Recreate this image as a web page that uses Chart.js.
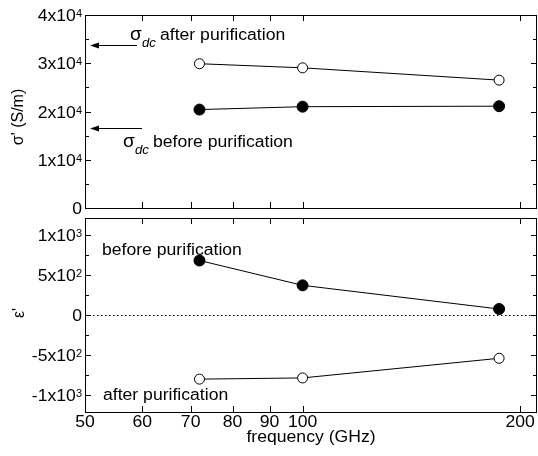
<!DOCTYPE html>
<html>
<head>
<meta charset="utf-8">
<script src="https://cdn.jsdelivr.net/npm/chart.js@4/dist/chart.umd.min.js"></script>
<style>
  body { margin: 0; background: #fff; }
  #wrap { position: relative; width: 538px; height: 456px; }
  canvas { position: absolute; left: 0; top: 0; }
</style>
</head>
<body>
<div id="wrap">
  <canvas id="topPanel" width="538" height="456"></canvas>
  <canvas id="botPanel" width="538" height="456"></canvas>
</div>
<script>
// data
const freqs = [72, 100, 187];
const sigmaAfter = [29900, 29050, 26500];
const sigmaBefore = [20400, 21000, 21100];
const epsBefore = [680, 370, 75];
const epsAfter = [-800, -785, -540];
const sigmaDcAfter = 33700;
const sigmaDcBefore = 16600;

// ticks
const xTicks = [50, 60, 70, 80, 90, 100, 200];
const sigmaTicks = [0, 10000, 20000, 30000, 40000];
const sigmaTickLabels = ['0', '1x10^4', '2x10^4', '3x10^4', '4x10^4'];
const sigmaMinor = [5000, 15000, 25000, 35000];
const epsTicks = [-1000, -500, 0, 500, 1000];
const epsTickLabels = ['-1x10^3', '-5x10^2', '0', '5x10^2', '1x10^3'];
const epsMinor = [-750, -250, 250, 750];

const FONT = '"Liberation Sans", Arial, sans-serif';
const SX = 1.1; // the figure's text is a bit wide

function txt(ctx, s, x, y, size, align, italic) {
  ctx.save();
  ctx.font = (italic ? 'italic ' : '') + size + 'px ' + FONT;
  ctx.textBaseline = 'alphabetic';
  ctx.textAlign = 'left';
  const w = ctx.measureText(s).width * SX;
  const x0 = align === 'right' ? x - w : align === 'center' ? x - w / 2 : x;
  ctx.translate(x0, y);
  ctx.scale(SX, 1);
  ctx.fillStyle = '#000';
  ctx.fillText(s, 0, 0);
  ctx.restore();
  return w;
}

function powLabel(ctx, label, xRight, yc) {
  const parts = label.split('^');
  if (parts.length === 1) { txt(ctx, label, xRight, yc + 6, 16, 'right'); return; }
  const supW = txt(ctx, parts[1], xRight, yc + 2, 10, 'right');
  txt(ctx, parts[0], xRight - supW, yc + 6, 16, 'right');
}

function vTitle(ctx, s, x, y) {
  ctx.save();
  ctx.translate(x, y);
  ctx.rotate(-Math.PI / 2);
  ctx.font = '16px ' + FONT;
  ctx.textAlign = 'center';
  ctx.textBaseline = 'middle';
  ctx.fillStyle = '#000';
  ctx.fillText(s, 0, 0);
  ctx.restore();
}

function arrow(ctx, x1, x2, y) {
  ctx.save();
  ctx.strokeStyle = '#000';
  ctx.fillStyle = '#000';
  ctx.lineWidth = 1;
  ctx.beginPath();
  ctx.moveTo(x1, y);
  ctx.lineTo(x2 + 6, y);
  ctx.stroke();
  ctx.beginPath();
  ctx.moveTo(x2, y);
  ctx.lineTo(x2 + 9, y - 3);
  ctx.lineTo(x2 + 9, y + 3);
  ctx.closePath();
  ctx.fill();
  ctx.restore();
}

function sigmaDc(ctx, x, y, rest) {
  ctx.save();
  ctx.font = '19px ' + FONT;
  ctx.fillStyle = '#000';
  ctx.fillText('σ', x, y);
  ctx.restore();
  txt(ctx, 'dc', x + 12, y + 7, 12, 'left', true);
  txt(ctx, rest, x + 30, y, 16, 'left');
}

function framePlugin(majors, labels, minors, showX) {
  return {
    id: 'frame',
    afterDraw(chart) {
      const ctx = chart.ctx;
      const a = chart.chartArea;
      const xs = chart.scales.x, ys = chart.scales.y;
      ctx.save();
      ctx.strokeStyle = '#000';
      ctx.lineWidth = 1;
      ctx.strokeRect(Math.round(a.left) + 0.5, Math.round(a.top) + 0.5,
        Math.round(a.right - a.left) - 1, Math.round(a.bottom - a.top));
      ctx.beginPath();
      xTicks.forEach(v => {
        const px = Math.round(xs.getPixelForValue(v)) + 0.5;
        ctx.moveTo(px, a.top); ctx.lineTo(px, a.top + 6);
        ctx.moveTo(px, a.bottom); ctx.lineTo(px, a.bottom - 6);
      });
      majors.forEach(v => {
        const py = Math.round(ys.getPixelForValue(v)) + 0.5;
        ctx.moveTo(a.left, py); ctx.lineTo(a.left + 6, py);
        ctx.moveTo(a.right, py); ctx.lineTo(a.right - 6, py);
      });
      minors.forEach(v => {
        const py = Math.round(ys.getPixelForValue(v)) + 0.5;
        ctx.moveTo(a.left, py); ctx.lineTo(a.left + 4, py);
        ctx.moveTo(a.right, py); ctx.lineTo(a.right - 4, py);
      });
      ctx.stroke();
      ctx.restore();
      majors.forEach((v, i) => powLabel(ctx, labels[i], a.left - 3, ys.getPixelForValue(v)));
      if (showX) {
        xTicks.forEach(v => txt(ctx, String(v), xs.getPixelForValue(v), a.bottom + 15, 16, 'center'));
        txt(ctx, 'frequency (GHz)', (a.left + a.right) / 2, a.bottom + 30, 16, 'center');
      }
    }
  };
}

const openPt = { pointRadius: 5, pointBackgroundColor: '#fff', pointBorderColor: '#000', pointBorderWidth: 1 };
const fillPt = { pointRadius: 5.5, pointBackgroundColor: '#000', pointBorderColor: '#000', pointBorderWidth: 1 };

function series(vals, style) {
  return Object.assign({
    data: freqs.map((f, i) => ({ x: f, y: vals[i] })),
    borderColor: '#000', borderWidth: 1, fill: false, tension: 0
  }, style);
}

function makeChart(id, padTop, bottomPx, yMin, yMax, datasets, plugins) {
  return new Chart(document.getElementById(id), {
    type: 'line',
    data: { datasets },
    options: {
      responsive: false,
      animation: false,
      events: [],
      layout: { autoPadding: false, padding: { top: padTop, right: 1, left: 0, bottom: 0 } },
      plugins: { legend: { display: false }, tooltip: { enabled: false } },
      scales: {
        x: {
          type: 'logarithmic', min: 50, max: 211,
          ticks: { display: false }, grid: { display: false }, border: { display: false },
          afterFit(s) { s.height = 456 - bottomPx; }
        },
        y: {
          min: yMin, max: yMax,
          ticks: { display: false }, grid: { display: false }, border: { display: false },
          afterFit(s) { s.width = 85; }
        }
      }
    },
    plugins
  });
}

makeChart('topPanel', 15, 208, 0, 40000,
  [series(sigmaAfter, openPt), series(sigmaBefore, fillPt)],
  [framePlugin(sigmaTicks, sigmaTickLabels, sigmaMinor, false), {
    id: 'notesTop',
    afterDraw(chart) {
      const ctx = chart.ctx, a = chart.chartArea, ys = chart.scales.y;
      arrow(ctx, a.left + 52, a.left + 5, Math.round(ys.getPixelForValue(sigmaDcAfter)) + 0.5);
      arrow(ctx, a.left + 57, a.left + 5, Math.round(ys.getPixelForValue(sigmaDcBefore)) + 0.5);
      sigmaDc(ctx, 130, 40, 'after purification');
      sigmaDc(ctx, 123, 147, 'before purification');
      vTitle(ctx, "σ' (S/m)", 19, 117);
    }
  }]);

makeChart('botPanel', 218, 412, -1210, 1210,
  [series(epsBefore, fillPt), series(epsAfter, openPt)],
  [{
    id: 'zeroLine',
    beforeDatasetsDraw(chart) {
      const ctx = chart.ctx, a = chart.chartArea;
      const py = Math.round(chart.scales.y.getPixelForValue(0)) + 0.5;
      ctx.save();
      ctx.strokeStyle = '#000';
      ctx.lineWidth = 1;
      ctx.setLineDash([1.5, 2.5]);
      ctx.beginPath();
      ctx.moveTo(a.left, py); ctx.lineTo(a.right, py);
      ctx.stroke();
      ctx.restore();
    }
  }, framePlugin(epsTicks, epsTickLabels, epsMinor, true), {
    id: 'notesBot',
    afterDraw(chart) {
      const ctx = chart.ctx;
      txt(ctx, 'before purification', 102, 255, 16, 'left');
      txt(ctx, 'after purification', 103, 400, 16, 'left');
      vTitle(ctx, "ε'", 20, 313);
    }
  }]);
</script>
</body>
</html>
